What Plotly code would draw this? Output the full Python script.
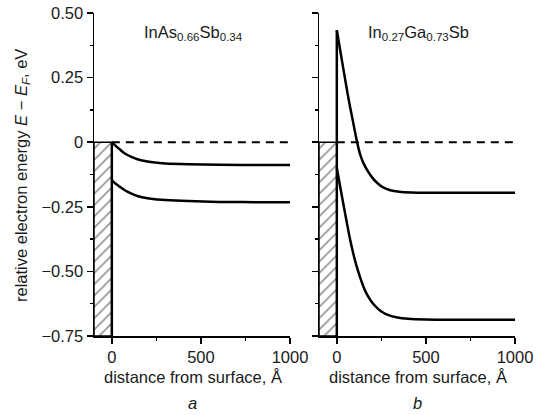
import plotly.graph_objects as go

# ---- data ----
a_upper_x = [0, 20, 40, 73, 110, 148, 200, 242, 300, 429, 600, 800, 1000]
a_upper_e = [0.0, -0.013, -0.025, -0.044, -0.057, -0.067, -0.075, -0.079, -0.082, -0.085, -0.087, -0.088, -0.088]
a_lower_x = [0, 20, 40, 73, 110, 148, 200, 242, 300, 429, 600, 800, 1000]
a_lower_e = [-0.147, -0.16, -0.17, -0.186, -0.199, -0.209, -0.217, -0.221, -0.224, -0.228, -0.231, -0.232, -0.232]

b_upper_x = [0, 15, 30, 45, 60, 75, 90, 102, 114, 130, 150, 174, 200, 230, 260, 300, 350, 420, 500, 700, 1000]
b_upper_e = [0.433, 0.372, 0.311, 0.250, 0.190, 0.134, 0.083, 0.040, 0.0, -0.045, -0.082, -0.112, -0.138,
             -0.160, -0.175, -0.186, -0.192, -0.195, -0.196, -0.196, -0.196]
b_lower_x = [0, 15, 30, 45, 60, 75, 90, 105, 120, 135, 150, 170, 195, 220, 250, 290, 340, 400, 500, 700, 1000]
b_lower_e = [-0.10, -0.157, -0.214, -0.27, -0.325, -0.378, -0.424, -0.465, -0.50, -0.532, -0.56, -0.59, -0.617,
             -0.637, -0.655, -0.669, -0.678, -0.683, -0.686, -0.687, -0.687]

x_range = [-100, 1000]
y_range = [-0.75, 0.5]
y_tickvals = [0.5, 0.25, 0, -0.25, -0.5, -0.75]
y_ticktext = ["0.50", "0.25", "0", "\u22120.25", "\u22120.50", "\u22120.75"]
y_minor = [0.375, 0.125, -0.125, -0.375, -0.625]
x_tickvals = [0, 500, 1000]
x_ticktext = ["0", "500", "1000"]
x_minor = [250, 750]
panel_titles = ["InAs<sub>0.66</sub>Sb<sub>0.34</sub>", "In<sub>0.27</sub>Ga<sub>0.73</sub>Sb"]
panel_letters = ["a", "b"]
x_title = "distance from surface, \u00c5"
y_title = "relative electron energy <i>E</i> \u2212 <i>E</i><sub><i>F</i></sub>, eV"

W, H = 544, 415
FONT = "Liberation Sans, Arial, sans-serif"
FS = 16.5
TXT = "#1a1a1a"

fig = go.Figure()

panels = [
    dict(xa="x", ya="y", ux=a_upper_x, ue=a_upper_e, lx=a_lower_x, le=a_lower_e, vtop=0.0),
    dict(xa="x2", ya="y2", ux=b_upper_x, ue=b_upper_e, lx=b_lower_x, le=b_lower_e, vtop=b_upper_e[0]),
]

for p in panels:
    # hatched substrate region
    fig.add_trace(go.Scatter(
        x=[x_range[0], 0, 0, x_range[0], x_range[0]],
        y=[y_range[0], y_range[0], 0, 0, y_range[0]],
        mode="lines", fill="toself",
        fillcolor="white",
        fillpattern=dict(shape="/", fgcolor="#222", bgcolor="white", size=8, solidity=0.2),
        line=dict(color="black", width=1.5),
        xaxis=p["xa"], yaxis=p["ya"], showlegend=False, hoverinfo="skip"))
    # Fermi level dashed
    fig.add_trace(go.Scatter(
        x=[0, 1000], y=[0, 0], mode="lines",
        line=dict(color="black", width=2, dash="8px,6px"),
        xaxis=p["xa"], yaxis=p["ya"], showlegend=False, hoverinfo="skip"))
    # surface vertical line
    fig.add_trace(go.Scatter(
        x=[0, 0], y=[y_range[0], p["vtop"]], mode="lines",
        line=dict(color="black", width=2.5),
        xaxis=p["xa"], yaxis=p["ya"], showlegend=False, hoverinfo="skip"))
    # bands
    for xs, es in [(p["ux"], p["ue"]), (p["lx"], p["le"])]:
        fig.add_trace(go.Scatter(
            x=xs, y=es, mode="lines",
            line=dict(color="black", width=2.5, shape="spline", smoothing=1.0),
            xaxis=p["xa"], yaxis=p["ya"], showlegend=False, hoverinfo="skip"))

def px_x(px):
    return px / W

def px_y(py):
    return 1 - py / H

xdom = [[px_x(94), px_x(290)], [px_x(319), px_x(515)]]
ydom = [px_y(336), px_y(13)]

axis_common = dict(
    showline=True, linecolor="black", linewidth=1.5,
    ticks="outside", ticklen=6, tickwidth=1.5, tickcolor="black",
    showgrid=False, zeroline=False, mirror=False, automargin=False,
    tickfont=dict(family=FONT, size=FS, color=TXT),
)
minor_x = dict(tickvals=x_minor, ticklen=3, tickwidth=1.5, tickcolor="black", ticks="outside")
minor_y = dict(tickvals=y_minor, ticklen=3, tickwidth=1.5, tickcolor="black", ticks="outside")

fig.update_layout(
    width=W, height=H,
    margin=dict(l=0, r=0, t=0, b=0, autoexpand=False),
    paper_bgcolor="white", plot_bgcolor="white",
    font=dict(family=FONT, size=FS, color=TXT),
    hovermode=False,
    xaxis=dict(domain=xdom[0], range=x_range, anchor="y",
               tickvals=x_tickvals, ticktext=x_ticktext, minor=minor_x, **axis_common),
    xaxis2=dict(domain=xdom[1], range=x_range, anchor="y2",
                tickvals=x_tickvals, ticktext=x_ticktext, minor=minor_x, **axis_common),
    yaxis=dict(domain=ydom, range=y_range, anchor="x",
               tickvals=y_tickvals, ticktext=y_ticktext, minor=minor_y, **axis_common),
    yaxis2=dict(domain=ydom, range=y_range, anchor="x2", showticklabels=False,
                tickvals=y_tickvals, minor=minor_y, **axis_common),
)

ann = []
centers = [192, 417]
title_cx = [193, 418]
for i in range(2):
    ann.append(dict(text=panel_titles[i], x=px_x(title_cx[i]), y=px_y(33), xref="paper", yref="paper",
                    showarrow=False, xanchor="center", yanchor="middle",
                    font=dict(family=FONT, size=FS, color=TXT)))
    ann.append(dict(text=x_title, x=px_x(centers[i] + 1), y=px_y(377), xref="paper", yref="paper",
                    showarrow=False, xanchor="center", yanchor="middle",
                    font=dict(family=FONT, size=FS, color=TXT)))
    ann.append(dict(text="<i>" + panel_letters[i] + "</i>", x=px_x(centers[i]), y=px_y(403),
                    xref="paper", yref="paper", showarrow=False, xanchor="center", yanchor="middle",
                    font=dict(family=FONT, size=FS, color=TXT)))
ann.append(dict(text=y_title, x=px_x(22), y=px_y(176), xref="paper", yref="paper",
                showarrow=False, xanchor="center", yanchor="middle", textangle=-90,
                font=dict(family=FONT, size=FS, color=TXT)))
fig.update_layout(annotations=ann)

fig.write_html("out.html",
               config={"displayModeBar": False, "staticPlot": True},
               post_script="document.body.style.margin='0';document.body.style.overflow='hidden';")
